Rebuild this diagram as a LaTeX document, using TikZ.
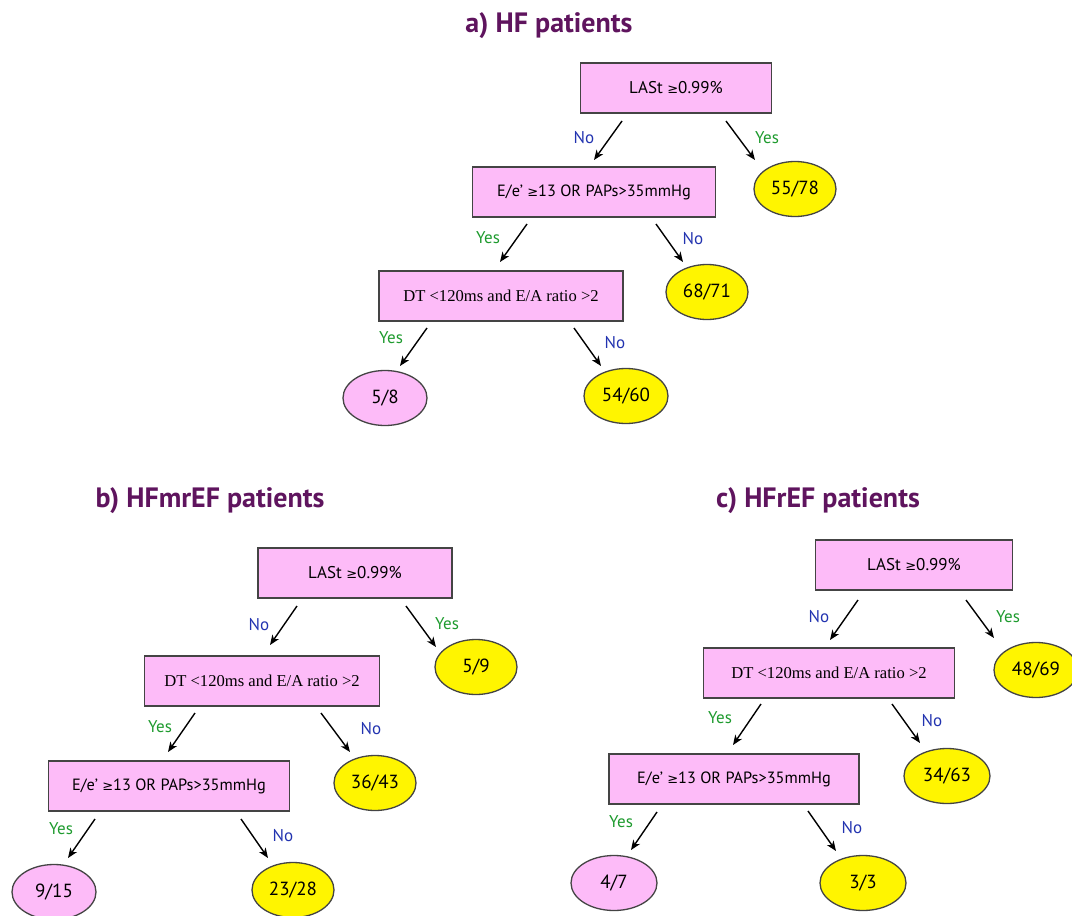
\documentclass[tikz,border=0pt]{standalone}
\usepackage{fontspec}
\setmainfont{PT Sans}
\newfontfamily\serifx{Liberation Serif}
\newfontfamily\symfont{DejaVu Sans}
\newcommand{\gesym}{{\symfont\fontsize{13}{15}\selectfont ≥}}
\usetikzlibrary{arrows.meta,shapes.geometric}
\definecolor{boxpink}{HTML}{FDBBF8}
\definecolor{leafyellow}{HTML}{FFF500}
\definecolor{yesgreen}{HTML}{1E9B2E}
\definecolor{noblue}{HTML}{2233B0}
\definecolor{titlepurple}{HTML}{5F145E}
\definecolor{edgegray}{HTML}{444444}
\tikzset{
  cond/.style={rectangle, draw=edgegray, line width=1.3pt, fill=boxpink, minimum height=50pt, inner sep=0pt, font=\fontsize{17}{19}\selectfont},
  condee/.style={cond, font=\fontsize{16.3}{18}\selectfont},
  condserif/.style={cond, font=\serifx\fontsize{16.6}{19}\selectfont},
  leaf/.style={ellipse, draw=edgegray, line width=1.3pt, fill=leafyellow, minimum width=82pt, minimum height=55pt, inner sep=0pt, font=\fontsize{19}{21}\selectfont},
  leafpink/.style={leaf, fill=boxpink},
  yeslbl/.style={text=yesgreen, font=\fontsize{17}{19}\selectfont},
  nolbl/.style={text=noblue, font=\fontsize{17}{19}\selectfont},
  arr/.style={-{Stealth[length=10pt,width=8pt,inset=3pt]}, line width=1.4pt},
  ttl/.style={text=titlepurple, font=\bfseries\fontsize{28}{32}\selectfont}
}
\begin{document}
\begin{tikzpicture}[x=1pt,y=-1pt]
\useasboundingbox[fill=white] (0,0) rectangle (1072,916);

% ---------- panel a ----------
\node[ttl] (ta) at (549,26) {a) HF patients};
\node[cond, minimum width=191pt] (a1) at (676,88) {LASt \gesym0.99\%};
\node[condee, minimum width=243pt] (a2) at (594,192) {E/e’ \gesym13 OR PAPs>35mmHg};
\node[leaf] (a3) at (795,189) {55/78};
\node[condserif, minimum width=244pt] (a4) at (501,296) {DT <120ms and E/A ratio >2};
\node[leaf] (a5) at (707,292) {68/71};
\node[leafpink, minimum width=84pt] (a6) at (385,398) {5/8};
\node[leaf, minimum width=84pt] (a7) at (626,396) {54/60};

\coordinate (a1n) at (622,121); \coordinate (a2t) at (594,160);
\coordinate (a1y) at (726,121); \coordinate (a3t) at (755,160);
\coordinate (a2y) at (527,224); \coordinate (a4t) at (500,262);
\coordinate (a2n) at (656,224); \coordinate (a5t) at (683,262);
\coordinate (a4y) at (427,328); \coordinate (a6t) at (400,366);
\coordinate (a4n) at (574,328); \coordinate (a7t) at (601,366);
\draw[arr] (a1n) -- (a2t);
\draw[arr] (a1y) -- (a3t);
\draw[arr] (a2y) -- (a4t);
\draw[arr] (a2n) -- (a5t);
\draw[arr] (a4y) -- (a6t);
\draw[arr] (a4n) -- (a7t);
\node[nolbl] (la1) at (584,138) {No};
\node[yeslbl] (la2) at (767,138) {Yes};
\node[yeslbl] (la3) at (488,238) {Yes};
\node[nolbl] (la4) at (693,239) {No};
\node[yeslbl] (la5) at (391,338) {Yes};
\node[nolbl] (la6) at (615,343) {No};

% ---------- panel b ----------
\node[ttl] (tb) at (210,501) {b) HFmrEF patients};
\node[cond, minimum width=194pt] (b1) at (355,573) {LASt \gesym0.99\%};
\node[condserif, minimum width=235pt] (b2) at (262,681) {DT <120ms and E/A ratio >2};
\node[leaf] (b3) at (476,667) {5/9};
\node[condee, minimum width=241pt] (b4) at (169,786) {E/e’ \gesym13 OR PAPs>35mmHg};
\node[leaf] (b5) at (375,783) {36/43};
\node[leafpink, minimum width=84pt] (b6) at (54,892) {9/15};
\node[leaf] (b7) at (293,890) {23/28};

\coordinate (b1n) at (297,606); \coordinate (b2t) at (270,645);
\coordinate (b1y) at (406,606); \coordinate (b3t) at (436,647);
\coordinate (b2y) at (195,713); \coordinate (b4t) at (168,752);
\coordinate (b2n) at (321,713); \coordinate (b5t) at (350,752);
\coordinate (b4y) at (95,819);  \coordinate (b6t) at (68,858);
\coordinate (b4n) at (241,819); \coordinate (b7t) at (268,858);
\draw[arr] (b1n) -- (b2t);
\draw[arr] (b1y) -- (b3t);
\draw[arr] (b2y) -- (b4t);
\draw[arr] (b2n) -- (b5t);
\draw[arr] (b4y) -- (b6t);
\draw[arr] (b4n) -- (b7t);
\node[nolbl] (lb1) at (259,625) {No};
\node[yeslbl] (lb2) at (447,624) {Yes};
\node[yeslbl] (lb3) at (160,727) {Yes};
\node[nolbl] (lb4) at (371,729) {No};
\node[yeslbl] (lb5) at (61,829) {Yes};
\node[nolbl] (lb6) at (283,836) {No};

% ---------- panel c ----------
\node[ttl] (tc) at (818,501) {c) HFrEF patients};
\node[cond, minimum width=197pt] (c1) at (914,565) {LASt \gesym0.99\%};
\node[condserif, minimum width=251pt] (c2) at (829,673) {DT <120ms and E/A ratio >2};
\node[leaf, minimum width=84pt] (c3) at (1036,670) {48/69};
\node[condee, minimum width=250pt] (c4) at (734,779) {E/e’ \gesym13 OR PAPs>35mmHg};
\node[leaf, minimum width=86pt] (c5) at (947,776) {34/63};
\node[leafpink, minimum width=86pt] (c6) at (614,883) {4/7};
\node[leaf, minimum width=86pt] (c7) at (863,883) {3/3};

\coordinate (c1n) at (858,600); \coordinate (c2t) at (830,640);
\coordinate (c1y) at (966,600); \coordinate (c3t) at (994,638);
\coordinate (c2y) at (761,704); \coordinate (c4t) at (733,745);
\coordinate (c2n) at (892,704); \coordinate (c5t) at (920,743);
\coordinate (c4y) at (657,812); \coordinate (c6t) at (631,850);
\coordinate (c4n) at (808,811); \coordinate (c7t) at (836,851);
\draw[arr] (c1n) -- (c2t);
\draw[arr] (c1y) -- (c3t);
\draw[arr] (c2y) -- (c4t);
\draw[arr] (c2n) -- (c5t);
\draw[arr] (c4y) -- (c6t);
\draw[arr] (c4n) -- (c7t);
\node[nolbl] (lc1) at (819,617) {No};
\node[yeslbl] (lc2) at (1008,617) {Yes};
\node[yeslbl] (lc3) at (720,718) {Yes};
\node[nolbl] (lc4) at (932,721) {No};
\node[yeslbl] (lc5) at (621,822) {Yes};
\node[nolbl] (lc6) at (852,828) {No};
\end{tikzpicture}
\end{document}
